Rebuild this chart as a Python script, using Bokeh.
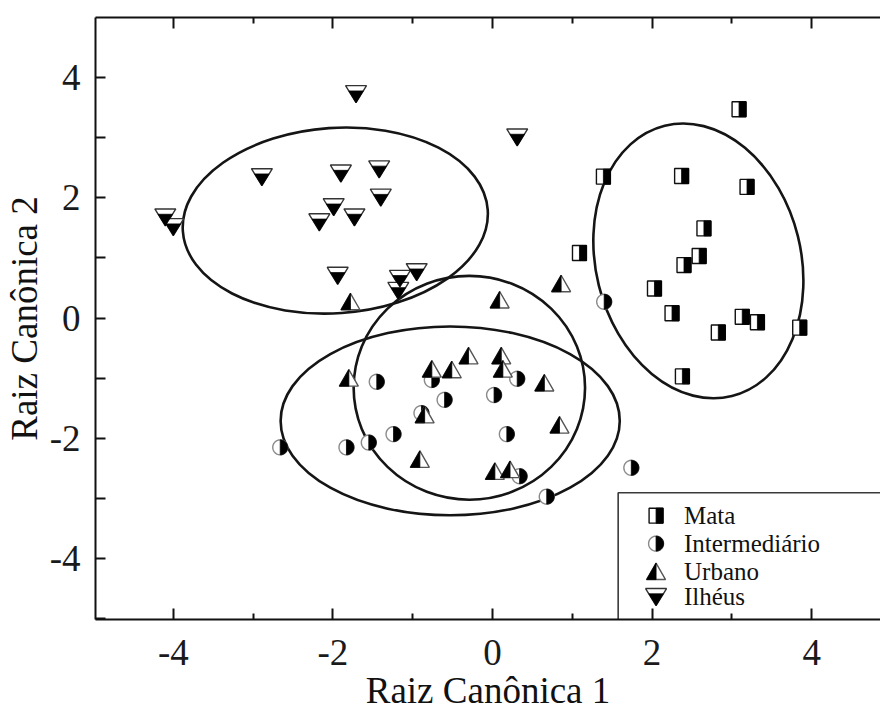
import numpy as np
from bokeh.plotting import figure
from bokeh.models import Range1d, LinearAxis, FixedTicker
from bokeh.core.properties import value
from bokeh.embed import file_html
from bokeh.resources import INLINE

# ---------------- data (Raiz Canônica 1, Raiz Canônica 2) ----------------
mata_x = [3.09, 1.39, 2.37, 3.19, 2.65, 2.59, 2.40, 1.09, 2.03, 2.25, 3.13, 3.32, 2.83, 3.85, 2.38]
mata_y = [3.47, 2.35, 2.36, 2.18, 1.49, 1.03, 0.88, 1.08, 0.49, 0.08, 0.02, -0.07, -0.24, -0.16, -0.97]

inter_x = [-1.45, -0.76, -0.60, -0.89, -1.24, -1.55, -1.83, -2.66, 0.02, 0.31, 0.18, 0.34, 0.68, 1.74, 1.40]
inter_y = [-1.06, -1.03, -1.36, -1.58, -1.93, -2.07, -2.15, -2.15, -1.28, -1.01, -1.93, -2.63, -2.97, -2.49, 0.27]

urb_x = [-1.78, 0.09, 0.86, -1.80, -0.76, -0.51, -0.30, 0.11, 0.13, 0.65, -0.85, 0.84, -0.91, 0.03, 0.22]
urb_y = [0.27, 0.30, 0.57, -1.00, -0.85, -0.86, -0.63, -0.63, -0.85, -1.08, -1.61, -1.78, -2.35, -2.55, -2.52]

ilh_x = [-1.71, -2.89, -1.90, -1.42, -1.40, -1.99, -1.73, -2.17, -4.10, -4.00, -1.94, -1.16, -0.95, -1.18, 0.31]
ilh_y = [3.73, 2.35, 2.41, 2.48, 2.01, 1.85, 1.68, 1.60, 1.68, 1.52, 0.71, 0.66, 0.77, 0.46, 3.01]

# group ellipses (centre, full width, full height, rotation)
ell_cx = [-1.97, 2.58, -0.29, -0.53]
ell_cy = [1.62, 0.95, -1.16, -1.71]
ell_w = [3.83, 2.57, 2.90, 4.25]
ell_h = [3.08, 4.63, 3.72, 3.14]
ell_angle = [0.07, 0.244, 0.0, 0.0]

groups = ["Mata", "Intermediário", "Urbano", "Ilhéus"]
x_ticks = [-4, -2, 0, 2, 4]
x_minor = [-5, -3, -1, 1, 3, 5]
y_ticks = [-4, -2, 0, 2, 4]
y_minor = [-5, -3, -1, 1, 3, 5]
tick_text = {-4: "-4", -2: "-2", 0: "0", 2: "2", 4: "4"}
x_title = "Raiz Canônica 1"
y_title = "Raiz Canônica 2"

# ---------------- layout ----------------
W, H = 880, 713
BL, BR, BT, BB = 93, 0, 17, 93
FRAME_W, FRAME_H = W - BL - BR, H - BT - BB
X0 = -4.975
X1 = X0 + FRAME_W / 80.0
Y0, Y1 = -5.012, 4.996
SX = FRAME_W / (X1 - X0)
SY = FRAME_H / (Y1 - Y0)
FL, FT = BL, BT  # frame left/top in picture pixels

def page_x(ix):
    return X0 + (ix - FL) / SX

def page_y(iy):
    return Y1 - (iy - FT) / SY

SERIF = "Liberation Serif"

p = figure(width=W, height=H,
           x_range=Range1d(X0, X1), y_range=Range1d(Y0, Y1),
           output_backend="svg", toolbar_location=None,
           min_border_left=BL, min_border_right=BR, min_border_top=BT, min_border_bottom=BB,
           background_fill_color="white", border_fill_color="white")
p.outline_line_color = None
p.xgrid.visible = False
p.ygrid.visible = False

for ax, ticks, minor, maj_in, min_in, lstand, tstand in [
        (p.xaxis[0], x_ticks, x_minor, 11, 6, 20, 2),
        (p.yaxis[0], y_ticks, y_minor, 10, 10, 15, 2)]:
    ax.ticker = FixedTicker(ticks=ticks, minor_ticks=minor)
    ax.major_label_overrides = tick_text
    ax.major_tick_in = maj_in
    ax.major_tick_out = 0
    ax.minor_tick_in = min_in
    ax.minor_tick_out = 0
    ax.axis_line_width = 2
    ax.axis_line_color = "#111111"
    ax.major_tick_line_width = 2
    ax.minor_tick_line_width = 2
    ax.major_tick_line_color = "#111111"
    ax.minor_tick_line_color = "#111111"
    ax.major_label_text_font = SERIF
    ax.major_label_text_font_size = "37px"
    ax.major_label_text_color = "#1a1a1a"
    ax.major_label_standoff = lstand
    ax.axis_label_text_font = SERIF
    ax.axis_label_text_font_size = "37px"
    ax.axis_label_text_font_style = "normal"
    ax.axis_label_text_color = "#111111"
    ax.axis_label_standoff = tstand

p.xaxis[0].axis_label = x_title
p.yaxis[0].axis_label = y_title

top = LinearAxis(ticker=FixedTicker(ticks=x_ticks, minor_ticks=x_minor),
                 major_label_overrides={t: "" for t in x_ticks},
                 major_label_standoff=0, major_label_text_font_size="1px",
                 major_tick_in=11, major_tick_out=0, minor_tick_in=6, minor_tick_out=0,
                 axis_line_width=2, axis_line_color="#111111",
                 major_tick_line_width=2, minor_tick_line_width=2,
                 major_tick_line_color="#111111", minor_tick_line_color="#111111")
p.add_layout(top, "above")

# ---------------- ellipses ----------------
p.ellipse(x=ell_cx, y=ell_cy, width=ell_w, height=ell_h, angle=ell_angle,
          fill_color=None, line_color="#151515", line_width=2.6)

# ---------------- half-filled markers ----------------
def circ(r, a0, a1, n=28):
    t = np.linspace(a0, a1, n)
    return list(zip(r * np.cos(t), r * np.sin(t)))

SHAPES = {
    "Mata": ([(-7, -7.5), (7, -7.5), (7, 7.5), (-7, 7.5)],
             [(0, -7.5), (7, -7.5), (7, 7.5), (0, 7.5)], "#111111"),
    "Intermediário": (circ(7.5, 0, 2 * np.pi, 40),
                      circ(7.5, -np.pi / 2, np.pi / 2, 22), "#8a8a8a"),
    "Urbano": ([(-9.5, -8), (9.5, -8), (0, 8.5)],
               [(-9.5, -8), (0, -8), (0, 8.5)], "#555555"),
    "Ilhéus": ([(-10.5, 8), (10.5, 8), (0, -9)],
               [(-10.5 * 11.7 / 17, 2.7), (10.5 * 11.7 / 17, 2.7), (0, -9)], "#333333"),
}

def shape_xy(xs, ys, pts):
    oxs, oys = [], []
    for x, y in zip(xs, ys):
        oxs.append([x + dx / SX for dx, dy in pts])
        oys.append([y + dy / SY for dx, dy in pts])
    return oxs, oys

def draw_markers(xs, ys, kind):
    outline, black, lc = SHAPES[kind]
    ox, oy = shape_xy(xs, ys, outline)
    bx, by = shape_xy(xs, ys, black)
    p.patches(ox, oy, fill_color="white", line_color=lc, line_width=1.4)
    p.patches(bx, by, fill_color="black", line_color="black", line_width=0.8)

draw_markers(mata_x, mata_y, "Mata")
draw_markers(inter_x, inter_y, "Intermediário")
draw_markers(urb_x, urb_y, "Urbano")
draw_markers(ilh_x, ilh_y, "Ilhéus")

# ---------------- legend (drawn inside the frame, lower right) ----------------
LEG_LEFT, LEG_TOP = 617, 493
MARK_X, TEXT_X = 655, 683
ROW_Y = [516, 544, 572, 597]
p.quad(left=[page_x(LEG_LEFT)], right=[page_x(FL + FRAME_W + 40)],
       top=[page_y(LEG_TOP)], bottom=[page_y(FT + FRAME_H + 40)],
       fill_color="white", line_color="#3a3a3a", line_width=1.6)
for g, ry in zip(groups, ROW_Y):
    draw_markers([page_x(MARK_X)], [page_y(ry)], g)
p.text(x=[page_x(TEXT_X)] * 4, y=[page_y(r) for r in ROW_Y], text=groups,
       text_font=value(SERIF), text_font_size="25px", text_color="#111111",
       text_baseline="middle", text_align="left")

open("out.html", "w").write(file_html(p, INLINE))
